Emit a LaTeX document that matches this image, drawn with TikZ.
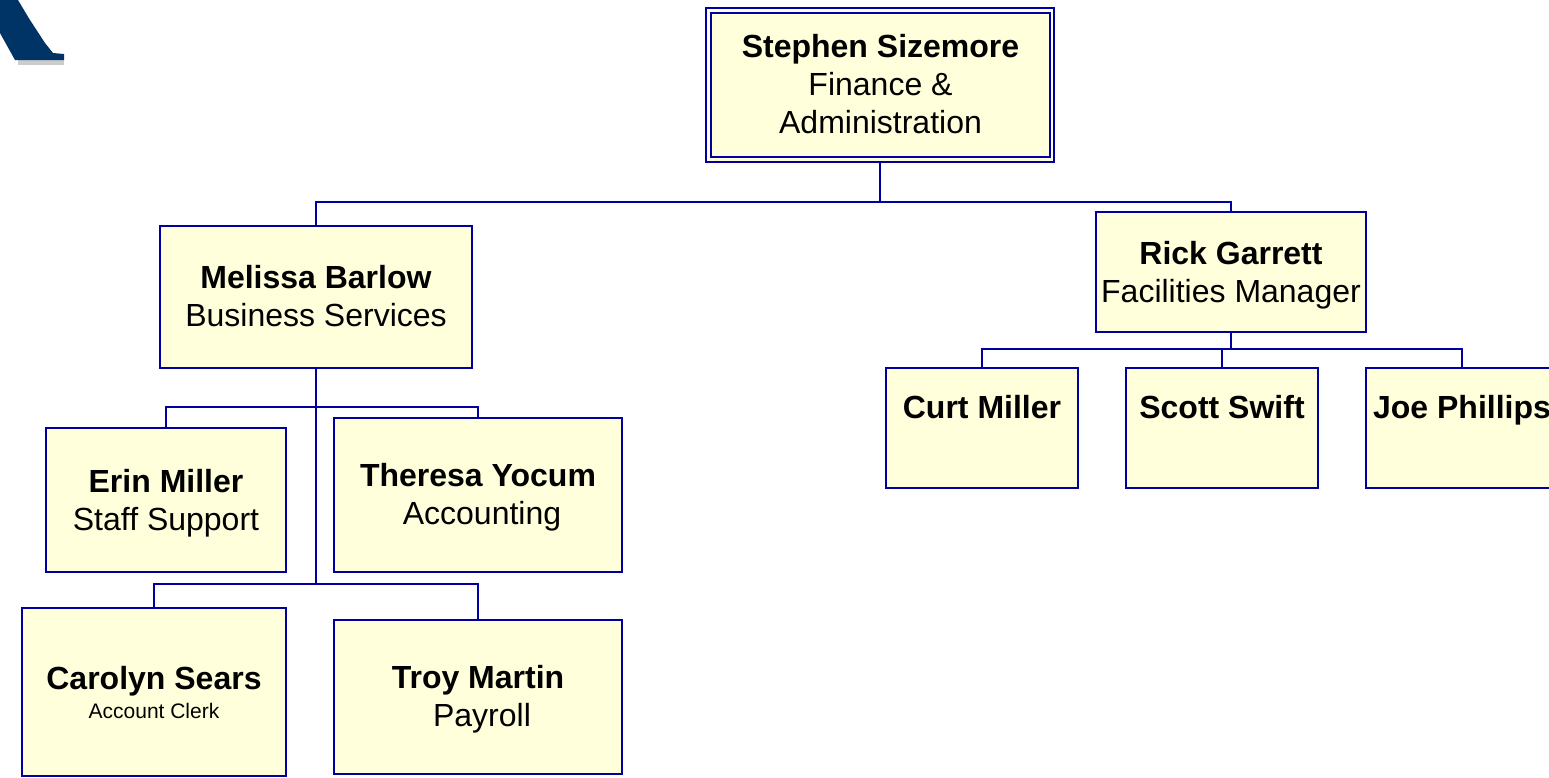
\documentclass[tikz,border=0pt]{standalone}
\usepackage{fontspec}
\setmainfont{Liberation Sans}
\definecolor{linec}{HTML}{0000A0}
\definecolor{boxfill}{HTML}{FFFFDC}
\definecolor{logonavy}{HTML}{003366}
\definecolor{logogrey}{HTML}{CCCCCC}
\tikzset{
  x=1pt,y=-1pt,
  box/.style={draw=linec,fill=boxfill,line width=2pt,inner sep=0pt,outer sep=0pt,align=center,anchor=north west,
    font=\fontsize{32}{38}\selectfont},
  conn/.style={draw=linec,line width=2pt,line join=miter},
}
\newcommand{\nm}[1]{\textbf{#1}}
\newcommand{\dn}{\rule{0pt}{29.5pt}}
\newcommand{\dnb}{\rule{0pt}{27.5pt}}
\newcommand{\upb}{\rule[-2pt]{0pt}{2pt}}
\newcommand{\blank}{\rule[-4pt]{0pt}{4pt}}
\begin{document}
\begin{tikzpicture}
\useasboundingbox (0,0) rectangle (1549,777);
% logo fragment
\fill[logogrey] (18,60) -- (64,60) -- (64,65) -- (18,65) -- cycle;
\fill[logonavy] (18,0) -- (30,20) -- (45,43) -- (53,53) -- (64,54) -- (64,60) -- (15,60) -- (0,33) -- (0,0) -- cycle;
% boxes
\node[box,minimum width=348pt,minimum height=154pt] (bossouter) at (706,8) {};
\node[box,minimum width=339pt,minimum height=144pt] (boss) at (711,13) {\nm{Stephen Sizemore}\\Finance \&\\Administration\upb};
\node[box,minimum width=312pt,minimum height=142pt] (melissa) at (160,226) {\nm{Melissa Barlow}\\Business Services\upb};
\node[box,minimum width=270pt,minimum height=120pt] (rick) at (1096,212) {\dn\nm{Rick Garrett}\\Facilities Manager};
\node[box,minimum width=240pt,minimum height=144pt] (erin) at (46,428) {\dn\nm{Erin Miller}\\Staff Support};
\node[box,minimum width=288pt,minimum height=154pt] (theresa) at (334,418) {\dnb\nm{Theresa Yocum}\\\hspace{8pt}Accounting};
\node[box,minimum width=264pt,minimum height=168pt] (carolyn) at (22,608) {\nm{Carolyn Sears}\\[-9pt]{\fontsize{21}{22}\selectfont Account Clerk}};
\node[box,minimum width=288pt,minimum height=154pt] (troy) at (334,620) {\dnb\nm{Troy Martin}\\\hspace{8pt}Payroll};
\node[box,minimum width=192pt,minimum height=120pt] (curt) at (886,368) {\nm{Curt Miller}\\\blank};
\node[box,minimum width=192pt,minimum height=120pt] (scott) at (1126,368) {\nm{Scott Swift}\\\blank};
\node[box,minimum width=192pt,minimum height=120pt] (joe) at (1366,368) {\nm{Joe Phillips}\\\blank};
% junctions
\coordinate (jboss) at (880,202);
\coordinate (jmel1) at (316,407);
\coordinate (jmel2) at (316,584);
\coordinate (jrick) at (1231,349);
% connectors
\draw[conn] (bossouter.south) -- (jboss);
\draw[conn] (jboss) -| (melissa.north);
\draw[conn] (jboss) -| (rick.north);
\draw[conn] (melissa.south) -- (jmel2);
\draw[conn] (jmel1) -| (erin.north);
\draw[conn] (jmel1) -| (theresa.north);
\draw[conn] (jmel2) -| (carolyn.north);
\draw[conn] (jmel2) -| (troy.north);
\draw[conn] (rick.south) -- (jrick);
\draw[conn] (jrick) -| (curt.north);
\draw[conn] (jrick) -| (scott.north);
\draw[conn] (jrick) -| (joe.north);
\end{tikzpicture}
\end{document}
